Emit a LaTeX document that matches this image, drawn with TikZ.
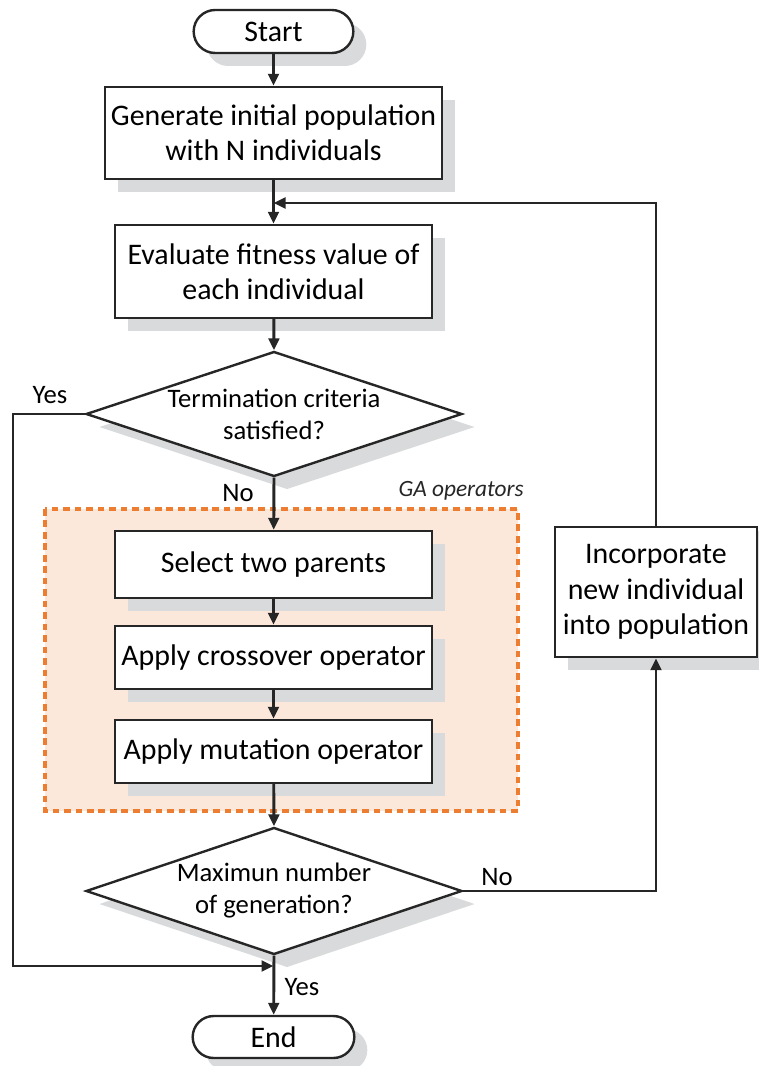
\documentclass[tikz,border=0pt]{standalone}
\usepackage{fontspec}
\setmainfont{Carlito}
\usetikzlibrary{shapes.geometric,shapes.misc,arrows.meta,shadows}

\definecolor{shadowgray}{HTML}{D9DADB}
\definecolor{gaorange}{HTML}{ED7D31}
\definecolor{gafill}{HTML}{FCE8DB}

\tikzset{
  flowline/.style={line width=2.2pt, draw=black!85},
  arrow/.style={flowline, -{Triangle[length=9pt,width=8pt]}},
  boxshadow/.style={drop shadow={shadow xshift=9.75pt, shadow yshift=-9.75pt, fill=shadowgray, opacity=1}},
  procbox/.style={rectangle, draw=black!85, line width=1.8pt, fill=white, boxshadow,
    align=center, inner sep=2pt, font=\fontsize{22.4pt}{26.5pt}\selectfont},
  termbox/.style={rounded rectangle, draw=black!85, line width=1.8pt, fill=white, boxshadow,
    inner sep=2pt, font=\fontsize{22.4pt}{26.5pt}\selectfont},
  decision/.style={diamond, draw=black!85, line width=1.8pt, fill=white, boxshadow,
    inner sep=0pt},
  dtext/.style={align=center, inner sep=0pt, font=\fontsize{20pt}{24pt}\selectfont},
  lbl/.style={font=\fontsize{20pt}{24pt}\selectfont, inner sep=0pt},
}

\begin{document}
\begin{tikzpicture}[x=0.75pt, y=-0.75pt]
\useasboundingbox (0,0) rectangle (758,1066);

% GA operators group
\draw[fill=gafill, draw=gaorange, line width=2.3pt, dash pattern=on 5pt off 3.6pt]
  (45,509) rectangle (518,811);
\node[font=\fontsize{17.5pt}{20pt}\selectfont\itshape, anchor=south east, inner sep=0pt, text=black!85]
  (galbl) at (524,501) {GA operators};

% nodes
\node[termbox, minimum width=165*0.75pt, minimum height=43*0.75pt] (start) at (273.5,31.5) {Start};
\node[procbox, minimum width=337*0.75pt, minimum height=92*0.75pt] (gen) at (273.5,133)
  {Generate initial population\\with N individuals};
\node[procbox, minimum width=317*0.75pt, minimum height=93*0.75pt] (eval) at (273.5,271.5)
  {Evaluate fitness value of\\each individual};
\node[decision, minimum width=376*0.75pt, minimum height=125*0.75pt] (d1) at (274,414) {};
\node[dtext] (d1text) at (d1) {Termination criteria\\satisfied?};
\node[procbox, minimum width=317*0.75pt, minimum height=67*0.75pt] (sel) at (273.5,564.5)
  {Select two parents};
\node[procbox, minimum width=317*0.75pt, minimum height=63*0.75pt] (cross) at (273.5,657.5)
  {Apply crossover operator};
\node[procbox, minimum width=317*0.75pt, minimum height=63*0.75pt] (mut) at (273.5,751.5)
  {Apply mutation operator};
\node[decision, minimum width=376*0.75pt, minimum height=127*0.75pt] (d2) at (274,891) {};
\node[dtext] (d2text) at (d2) {Maximun number\\of generation?};
\node[termbox, minimum width=167*0.75pt, minimum height=42*0.75pt] (end) at (273.5,1037) {End};
\node[procbox, minimum width=202*0.75pt, minimum height=130*0.75pt,
  drop shadow={shadow xshift=9.75pt, shadow yshift=-3pt, fill=shadowgray, opacity=1}]
  (inc) at (656,592) {Incorporate\\new individual\\into population};

% junction points
\coordinate (jtop) at (273.5,203);
\coordinate (jbot) at (273.5,966);
\coordinate (lcorner) at (13,966);

% connectors
\draw[arrow] (start) -- (gen);
\draw[arrow] (gen) -- (eval);
\draw[arrow] (eval) -- (d1.north);
\draw[arrow] (d1.south) -- (sel);
\draw[arrow] (sel) -- (cross);
\draw[arrow] (cross) -- (mut);
\draw[arrow] (mut) -- (d2.north);
\draw[arrow] (d2.south) -- (end);
\draw[arrow] (d1.west) -| (lcorner) -- (jbot);
\draw[arrow] (d2.east) -| (inc.south);
\draw[arrow] (inc.north) |- (jtop);

% branch labels
\node[lbl] (yes1) at (50,395) {Yes};
\node[lbl] (no1) at (238,493) {No};
\node[lbl] (no2) at (497,877) {No};
\node[lbl] (yes2) at (302,987) {Yes};
\end{tikzpicture}
\end{document}
